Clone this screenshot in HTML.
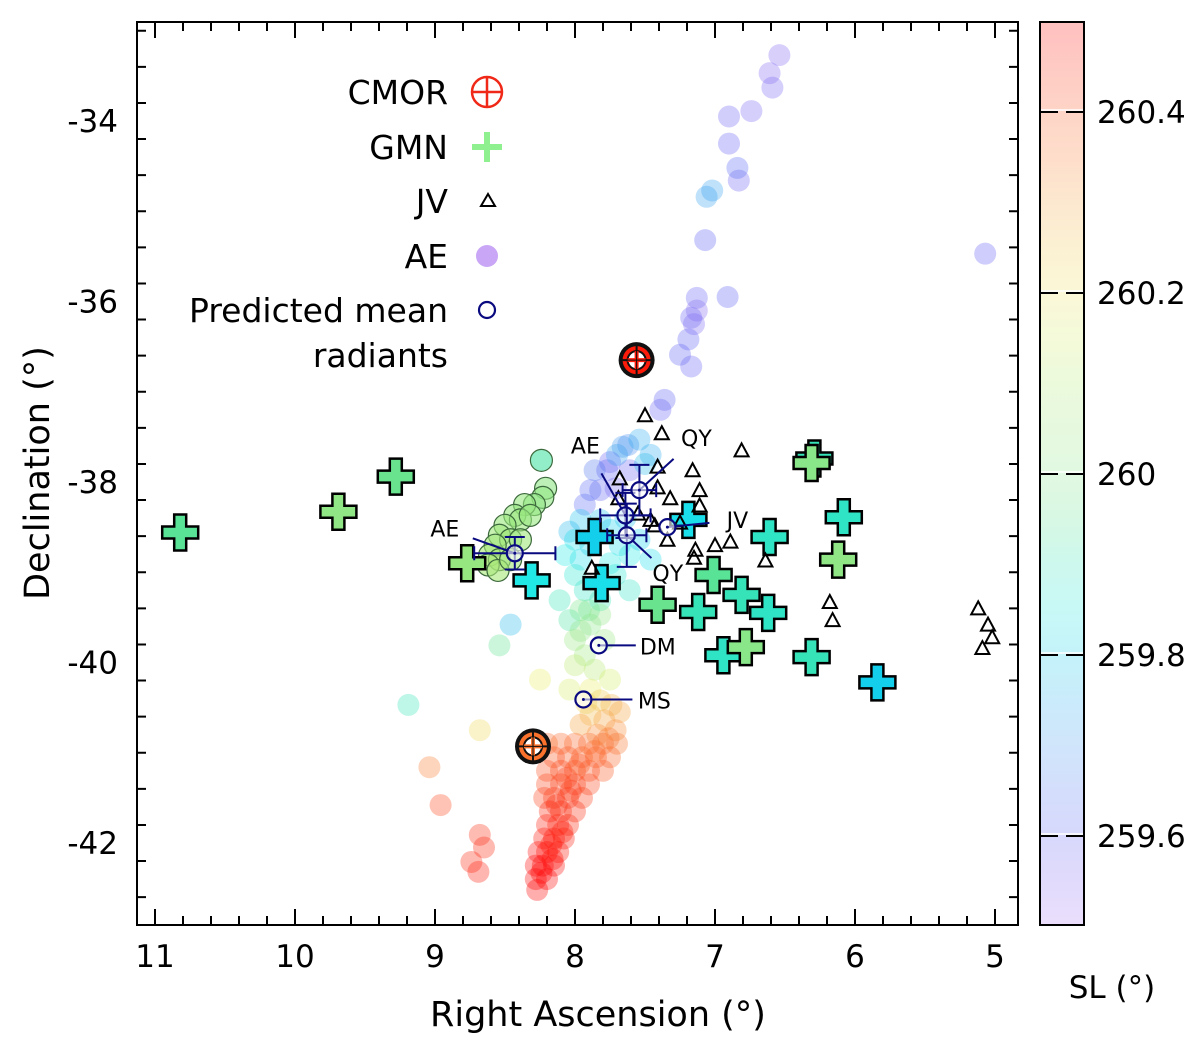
<!DOCTYPE html>
<html><head><meta charset="utf-8"><style>
html,body{margin:0;padding:0;background:#fff}
svg{display:block}
text{font-family:"DejaVu Sans","Liberation Sans",sans-serif;fill:#000}
</style></head><body>
<svg id="chart" width="1200" height="1050" viewBox="0 0 1200 1050" xmlns="http://www.w3.org/2000/svg">
<defs>
<linearGradient id="cbgrad" x1="0" y1="1" x2="0" y2="0"></linearGradient>
<clipPath id="plotclip"><rect x="137" y="22" width="881" height="903"/></clipPath>
</defs>
<rect x="137" y="22" width="881" height="903" fill="#fff"/>
<g id="aeg" clip-path="url(#plotclip)"></g>
<g id="gmng"></g>
<g id="jvg"></g>
<g id="cmorg"></g>
<g id="predg"></g>
<g id="axesg"></g>
<g id="legendg"></g>
<g id="cbg"></g>
</svg>
<script>
// ---- data ----
const xTicks=[11,10,9,8,7,6,5];
const yTicks=[-34,-36,-38,-40,-42];
const cbTicks=[259.6,259.8,260,260.2,260.4];
// AE meteors: [RA, Dec, SL]
const aePoints=[
[6.54,-33.27,259.55],[6.59,-33.63,259.56],[6.61,-33.47,259.55],[6.74,-33.89,259.56],[6.90,-33.95,259.57],
[6.90,-34.25,259.58],[6.83,-34.66,259.57],[6.84,-34.52,259.62],[7.02,-34.77,259.72],[7.07,-35.32,259.6],
[6.91,-35.95,259.6],[7.13,-35.96,259.58],[7.17,-36.18,259.58],[7.13,-36.10,259.55],[7.19,-36.42,259.6],
[7.25,-36.59,259.6],[7.17,-36.72,259.58],[5.07,-35.47,259.58],[7.06,-34.84,259.72],[7.15,-36.25,259.56],
[7.62,-37.59,259.68],[7.66,-37.61,259.7],[7.54,-37.53,259.74],[7.75,-37.78,259.58],[7.77,-37.87,259.6],
[7.82,-38.09,259.6],[7.89,-38.09,259.62],[7.71,-38.07,259.56],[7.86,-37.87,259.64],[7.93,-38.25,259.62],
[7.96,-38.42,259.78],[8.04,-38.55,259.76],[7.61,-37.87,259.57],[7.39,-37.20,259.58],[7.36,-37.09,259.6],
[7.46,-37.70,259.74],[7.70,-37.70,259.72],[7.50,-37.80,259.76],
[8.00,-38.64,259.82],[8.07,-38.81,259.84],[7.96,-38.86,259.82],[7.89,-38.70,259.8],[7.82,-38.42,259.78],
[7.75,-38.53,259.8],[7.68,-38.70,259.82],[7.61,-38.81,259.84],[7.54,-38.64,259.8],[8.00,-39.03,259.86],
[7.93,-39.20,259.88],[7.82,-39.31,259.9],[7.71,-39.03,259.86],[7.61,-39.20,259.88],[7.46,-38.86,259.82],
[8.11,-39.31,259.9],[8.04,-39.53,259.92],[7.90,-39.42,259.95],[7.75,-38.90,259.84],[7.64,-38.40,259.78],
[7.96,-39.42,259.98],[7.89,-39.58,260.0],[7.82,-39.47,260.02],[8.00,-39.75,260.04],[7.93,-39.92,260.06],
[7.86,-40.08,260.1],[8.00,-40.03,260.12],[7.79,-39.75,260.04],[8.04,-40.30,260.16],[7.89,-40.30,260.18],
[7.75,-40.19,260.15],[7.96,-39.65,260.02],
[7.82,-40.42,260.25],[7.74,-40.47,260.28],[7.89,-40.58,260.27],[7.79,-40.64,260.3],[7.68,-40.55,260.3],
[7.96,-40.69,260.3],[7.84,-40.80,260.33],[7.71,-40.75,260.33],[7.92,-40.45,260.24],
[7.7,-40.9,260.36],[7.8,-40.9,260.37],[7.9,-40.9,260.37],[8.0,-40.9,260.38],[8.1,-40.9,260.38],[8.2,-40.9,260.37],
[7.75,-41.05,260.38],[7.85,-41.05,260.39],[7.95,-41.05,260.39],[8.05,-41.05,260.4],[8.15,-41.05,260.4],
[7.8,-41.2,260.4],[7.9,-41.2,260.41],[8.0,-41.2,260.41],[8.1,-41.2,260.42],[8.2,-41.2,260.41],
[7.9,-41.35,260.42],[8.0,-41.35,260.43],[8.1,-41.35,260.43],[8.2,-41.35,260.42],
[7.95,-41.5,260.43],[8.05,-41.5,260.44],[8.15,-41.5,260.44],[8.22,-41.5,260.43],
[8.0,-41.65,260.45],[8.1,-41.65,260.45],[8.18,-41.65,260.46],
[8.05,-41.8,260.46],[8.12,-41.8,260.47],[8.2,-41.8,260.47],
[8.08,-41.95,260.47],[8.15,-41.95,260.48],[8.22,-41.95,260.48],
[8.12,-42.1,260.48],[8.2,-42.1,260.49],[8.26,-42.1,260.49],
[8.15,-42.25,260.49],[8.23,-42.25,260.5],[8.28,-42.25,260.5],
[8.2,-42.4,260.5],[8.28,-42.4,260.5],[8.27,-42.52,260.5],
[7.86,-40.98,260.38],[7.97,-41.13,260.4],[8.06,-41.28,260.42],[8.13,-41.58,260.45],[8.09,-41.88,260.47],
[8.17,-42.02,260.48],[7.76,-40.84,260.36],[8.03,-41.42,260.44],[8.16,-42.18,260.49],[8.24,-42.33,260.5],
[8.46,-39.58,259.76],[8.54,-39.81,259.95],[9.19,-40.47,259.9],[9.04,-41.16,260.35],[8.68,-40.75,260.22],
[8.96,-41.58,260.42],[8.74,-42.21,260.46],[8.69,-42.32,260.47],[8.65,-42.05,260.46],[8.68,-41.91,260.45],
[8.25,-40.19,260.18]
];
// AE outlined cluster: [RA, Dec, SL]
const aeBlob=[
[8.24,-37.76,259.92],[8.21,-38.07,260.02],[8.23,-38.17,260.03],[8.29,-38.25,260.02],[8.36,-38.25,260.04],
[8.43,-38.37,260.04],[8.39,-38.42,260.05],[8.50,-38.48,260.05],[8.54,-38.59,260.06],[8.46,-38.64,260.06],
[8.57,-38.70,260.07],[8.61,-38.81,260.08],[8.54,-38.86,260.08],[8.62,-38.92,260.08],[8.55,-38.98,260.08],
[8.46,-38.86,260.07],[8.39,-38.64,260.06],[8.32,-38.37,260.04]
];
// GMN: [RA, Dec, SL]
const gmnPoints=[
[10.82,-38.56,259.94],[9.69,-38.33,260.02],[9.28,-37.94,259.96],[8.77,-38.90,260.04],[8.31,-39.09,259.84],
[7.86,-38.61,259.8],[7.81,-39.12,259.82],[7.41,-39.36,259.96],[7.19,-38.42,259.82],[7.12,-39.44,259.9],
[7.01,-39.03,259.94],[6.94,-39.92,259.88],[6.81,-39.25,259.9],[6.78,-39.83,260.0],[6.61,-38.61,259.88],
[6.62,-39.45,259.88],[6.29,-37.74,259.9],[6.31,-37.79,260.0],[6.31,-39.94,259.9],[6.08,-38.39,259.88],
[6.12,-38.86,260.02],[5.84,-40.22,259.8]
];
// JV: [RA, Dec]
const jvPoints=[
[7.5,-37.26],[7.38,-37.46],[7.41,-37.83],[7.68,-37.96],[7.69,-38.18],[7.41,-38.06],[7.16,-37.87],
[6.81,-37.65],[7.11,-38.09],[7.11,-38.26],[7.32,-38.18],[7.34,-38.64],[7.14,-38.75],[7.0,-38.70],
[6.89,-38.66],[7.15,-38.84],[6.64,-38.87],[7.88,-38.95],[7.46,-38.42],[7.43,-38.48],[6.18,-39.33],
[6.16,-39.53],[5.12,-39.40],[5.05,-39.58],[5.02,-39.72],[5.09,-39.84],[7.55,-38.35],[7.25,-38.45]
];
// CMOR: [RA, Dec, SL]
const cmorPoints=[[7.56,-36.65,260.47],[8.30,-40.93,260.36]];
// Predicted mean radiants
const predNames=["AE","AE","QY","QY","JV","DM","MS"];
const predRA=[8.43,7.64,7.54,7.63,7.34,7.83,7.94];
const predDec=[-38.79,-38.37,-38.09,-38.59,-38.50,-39.81,-40.41];
const predRAerr=[0.29,0.18,0.12,0.14,0,0,0];
const predDecerr=[0.18,0.25,0.28,0.35,0,0,0];
// label offsets in px (style, not data)
const predLabelDx=[-70,-40,57,41,70,59,71];
const predLabelDy=[-25,-70,-52,38,-7,1,1];

// ---- scales ----
const X0=137,X1=1018,Y0=22,Y1=925;
const xs=ra=>155+(11-ra)*140;
const ys=dec=>121+(-34-dec)*90.25;
const cbs=sl=>111+(260.4-sl)*905;
const NS="http://www.w3.org/2000/svg";
function mk(tag,attrs,parent){const e=document.createElementNS(NS,tag);for(const k in attrs)e.setAttribute(k,attrs[k]);parent.appendChild(e);return e;}
function cmap(sl){
  const t=Math.max(0,Math.min(1,(sl-259.5)/1.0));
  const st=[[0,265,85,72],[0.2,210,85,60],[0.3,188,85,50],[0.4,165,75,55],[0.5,120,65,72],[0.7,55,80,65],[0.85,22,95,58],[1,0,100,50]];
  for(let i=0;i<st.length-1;i++){const a=st[i],b=st[i+1];if(t<=b[0]){const f=(t-a[0])/(b[0]-a[0]);
    return `hsl(${a[1]+(b[1]-a[1])*f},${a[2]+(b[2]-a[2])*f}%,${a[3]+(b[3]-a[3])*f}%)`;}}
  return "hsl(0,100%,50%)";
}
function plusPath(cx,cy,L,W){const l=L/2,w=W/2;
  return `M${cx-w},${cy-l}H${cx+w}V${cy-w}H${cx+l}V${cy+w}H${cx+w}V${cy+l}H${cx-w}V${cy+w}H${cx-l}V${cy-w}H${cx-w}Z`;}

// ---- AE ----
const aeg=document.getElementById('aeg');
aePoints.forEach(p=>{
  const c=mk('circle',{cx:xs(p[0]),cy:ys(p[1]),r:11,fill:cmap(p[2]),'fill-opacity':0.32},aeg);
  
  
});
aeBlob.forEach(p=>{
  const c=mk('circle',{cx:xs(p[0]),cy:ys(p[1]),r:11,fill:cmap(p[2]),'fill-opacity':0.6,stroke:'#3d6a3d','stroke-width':1.2},aeg);
  
  
});
// ---- GMN ----
const gmng=document.getElementById('gmng');
gmnPoints.forEach(p=>{
  const e=mk('path',{d:plusPath(xs(p[0]),ys(p[1]),36,12),fill:cmap(p[2]),stroke:'#000','stroke-width':2.5,'stroke-linejoin':'miter'},gmng);
  
  
});
// ---- JV ----
const jvg=document.getElementById('jvg');
jvPoints.forEach(p=>{
  const x=xs(p[0]),y=ys(p[1]);
  const e=mk('path',{d:`M${x},${y-7}L${x+7},${y+6}L${x-7},${y+6}Z`,fill:'none',stroke:'#000','stroke-width':2},jvg);
  
  
});
// ---- CMOR ----
const cmorg=document.getElementById('cmorg');
cmorPoints.forEach(p=>{
  const x=xs(p[0]),y=ys(p[1]);
  const g=mk('g',{},cmorg);
  
  
  mk('circle',{cx:x,cy:y,r:18,fill:'#111'},g);
  mk('circle',{cx:x,cy:y,r:14,fill:cmap(p[2])},g);
  mk('circle',{cx:x,cy:y,r:9,fill:'#fff',stroke:'#111','stroke-width':2},g);
  mk('path',{d:`M${x-14},${y}H${x+14}M${x},${y-14}V${y+14}`,stroke:'#111','stroke-width':2},g);
  mk('path',{d:`M${x-9},${y}H${x+9}M${x},${y-9}V${y+9}`,stroke:cmap(p[2]),'stroke-width':4},g);
  mk('path',{d:`M${x-14},${y}H${x+14}M${x},${y-14}V${y+14}`,stroke:'#111','stroke-width':1},g);
});
// ---- Predicted ----
const predg=document.getElementById('predg');
const NV='#0a0a80';
predRA.forEach((ra,i)=>{
  const x=xs(ra),y=ys(predDec[i]);
  const g=mk('g',{},predg);
  
  
  const dx=predLabelDx[i],dy=predLabelDy[i];
  if(predRAerr[i]>0){const xl=xs(ra+predRAerr[i]),xr=xs(ra-predRAerr[i]);
    mk('path',{d:`M${xl},${y}H${xr}M${xl},${y-7}V${y+7}M${xr},${y-7}V${y+7}`,stroke:NV,'stroke-width':2,fill:'none'},g);}
  if(predDecerr[i]>0){const yt=ys(predDec[i]+predDecerr[i]),yb=ys(predDec[i]-predDecerr[i]);
    mk('path',{d:`M${x},${yt}V${yb}M${x-10},${yt}H${x+10}M${x-10},${yb}H${x+10}`,stroke:NV,'stroke-width':2,fill:'none'},g);}
  const lx=x+dx*0.6,ly=y+dy*0.6;
  let lineEnd = (Math.abs(dy)<5)? [x+dx-22,y] : [lx,ly];
  mk('line',{x1:x,y1:y,x2:lineEnd[0],y2:lineEnd[1],stroke:NV,'stroke-width':2},g);
  mk('circle',{cx:x,cy:y,r:8,fill:'#fff','fill-opacity':0.6,stroke:NV,'stroke-width':2.2},g);
  mk('circle',{cx:x,cy:y,r:1.5,fill:NV},g);
  const t=mk('text',{x:x+dx,y:y+dy+8,'font-size':22,'text-anchor':'middle'},g);
  t.textContent=predNames[i];
  
  
});

// ---- Axes ----
const ax=document.getElementById('axesg');
mk('rect',{x:X0,y:Y0,width:X1-X0,height:Y1-Y0,fill:'none',stroke:'#000','stroke-width':2},ax);
let d='';
for(let v=11.4;v>=4.7;v-=0.2){const r=Math.round(v*10)/10;const x=xs(r);if(x<X0+1||x>X1-1)continue;
  const major=Math.abs(r-Math.round(r))<0.01;const L=major?16:9;
  d+=`M${x},${Y1}V${Y1-L}M${x},${Y0}V${Y0+L}`;}
for(let v=-33;v>=-43;v-=0.4){const r=Math.round(v*10)/10;const y=ys(r);if(y<Y0+1||y>Y1-1)continue;
  const major=Math.abs(r/2-Math.round(r/2))<0.01;const L=major?16:9;
  d+=`M${X0},${y}H${X0+L}M${X1},${y}H${X1-L}`;}
mk('path',{d:d,stroke:'#000','stroke-width':2},ax);
xTicks.forEach(v=>{const t=mk('text',{x:xs(v),y:967,'font-size':31,'text-anchor':'middle'},ax);t.textContent=v;
  });
yTicks.forEach(v=>{const t=mk('text',{x:118,y:ys(v)+11,'font-size':31,'text-anchor':'end'},ax);t.textContent=v;
  });
let xt=mk('text',{x:598,y:1026,'font-size':35,'text-anchor':'middle'},ax);xt.textContent='Right Ascension (°)';

let yt=mk('text',{x:0,y:0,'font-size':35,'text-anchor':'middle',transform:'translate(49,473) rotate(-90)'},ax);yt.textContent='Declination (°)';


// ---- Legend ----
const lg=document.getElementById('legendg');
const legLabels=['CMOR','GMN','JV','AE','Predicted mean','radiants'];
const legY=[92,147,201,256,310,355];
legLabels.forEach((s,i)=>{const t=mk('text',{x:448,y:legY[i]+12,'font-size':33,'text-anchor':'end'},lg);t.textContent=s;
  });
mk('circle',{cx:487,cy:92,r:15,fill:'none',stroke:'#f02818','stroke-width':2.5},lg);
mk('path',{d:'M472,92H502M487,77V107',stroke:'#f02818','stroke-width':2.5},lg);
mk('path',{d:plusPath(487,147,30,6),fill:'#8ef08e'},lg);
mk('path',{d:'M488,194L495,206L481,206Z',fill:'none',stroke:'#000','stroke-width':2},lg);
mk('circle',{cx:487,cy:256,r:11,fill:'#c9a6f6'},lg);
mk('circle',{cx:487,cy:310,r:8,fill:'none',stroke:NV,'stroke-width':2.2},lg);

// ---- Colorbar ----
const grad=document.getElementById('cbgrad');
for(let i=0;i<=20;i++){const sl=259.5+i*0.05;
  mk('stop',{offset:(i/20),'stop-color':cmap(sl),'stop-opacity':0.25},grad);}
const cbg=document.getElementById('cbg');
mk('rect',{x:1040,y:Y0,width:44,height:Y1-Y0,fill:'url(#cbgrad)',stroke:'#000','stroke-width':2},cbg);
cbTicks.forEach(v=>{const y=cbs(v);
  mk('path',{d:`M1041,${y-1}H1083`,stroke:'#fff','stroke-width':1.5},cbg);
  mk('path',{d:`M1041,${y+1}H1058M1066,${y+1}H1083`,stroke:'#000','stroke-width':2},cbg);
  const t=mk('text',{x:1097,y:y+12,'font-size':31},cbg);t.textContent=v===260?'260':v.toFixed(1);
  });
let ct=mk('text',{x:1112,y:998,'font-size':31,'text-anchor':'middle'},cbg);ct.textContent='SL (°)';

</script>
</body></html>
